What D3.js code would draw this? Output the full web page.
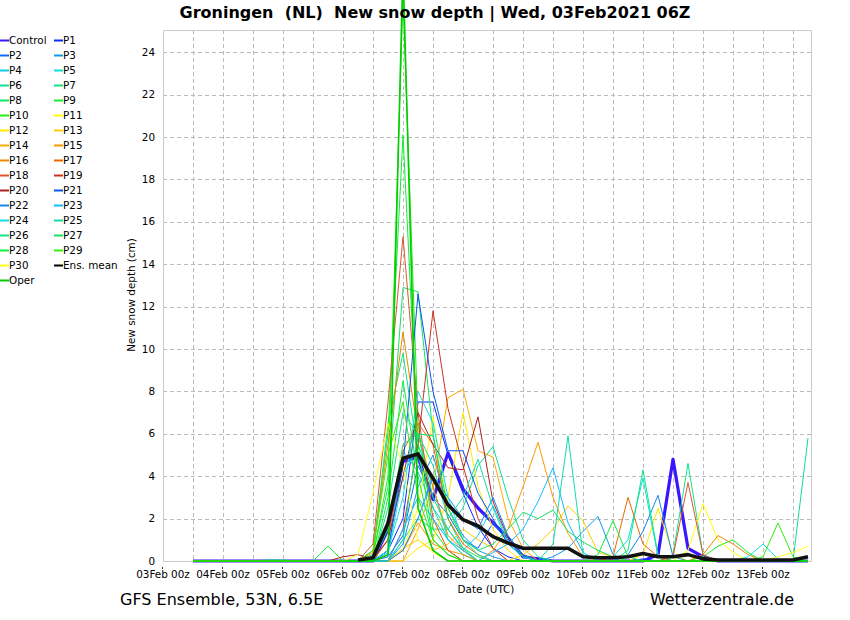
<!DOCTYPE html>
<html>
<head>
<meta charset="utf-8">
<title>Groningen new snow depth</title>
<script src="https://cdnjs.cloudflare.com/ajax/libs/d3/7.8.5/d3.min.js"></script>
<style>
  body { margin: 0; background: #fff; }
  svg { font-family: "DejaVu Sans", sans-serif; }
</style>
</head>
<body>
<script>
// 6-hourly steps from 03Feb 12Z to 13Feb 18Z (42 steps)
const start = Date.UTC(2021, 1, 3, 12);
const times = d3.range(42).map(i => new Date(start + i * 6 * 3600e3));

const names  = ["Control","P1","P2","P3","P4","P5","P6","P7","P8","P9","P10",
                "P11","P12","P13","P14","P15","P16","P17","P18","P19","P20",
                "P21","P22","P23","P24","P25","P26","P27","P28","P29","P30","Oper"];
const colors = ["#3a16ff","#0a2cff","#1166ff","#1199ee","#11c8f0","#11dddd","#11dd99","#11e488","#11e466","#11ee33","#22ee11",
                "#ffff00","#ffe800","#ffcc00","#ffaa00","#ff9900","#ee8800","#ee6600","#dd5533","#cc3322","#aa2222",
                "#0a55ee","#1188ee","#11bbff","#11dde8","#11ddaa","#11e488","#11e466","#11ee44","#33ee11","#ffff22","#00cc00"];

//                0  1  2  3  4  5  6  7  8  9   10   11   12   13   14   15   16   17   18   19   20   21   22   23   24   25   26   27   28   29   30   31   32   33   34   35   36   37   38   39   40   41
const control = [0, 0, 0, 0, 0, 0, 0, 0, 0, 0,   0,   0,   0, 1.5, 4.7, 4.9, 2.9, 5.1, 3.4, 2.5, 1.8, 1.1, 0.2, 0.1,   0,   0,   0,   0,   0,   0,   0, 0.3, 4.8, 0.6, 0.2,   0,   0,   0,   0,   0,   0,   0];
const p1  = [0, 0, 0, 0, 0, 0, 0, 0, 0, 0,   0,   0,   0, 0.5, 2.0, 7.5, 7.5, 5.0, 3.2, 1.6, 0.6, 0.2,   0,   0,   0,   0,   0,   0,   0,   0, 0.1,   0,   0,   0,   0,   0,   0,   0,   0,   0,   0,   0];
const p2  = [0, 0, 0, 0, 0, 0, 0, 0, 0, 0,   0,   0,   0, 0.2, 1.2, 4.5, 3.0, 2.2, 1.0, 0.6, 1.8, 0.9, 0.3,   0,   0,   0,   0,   0,   0,   0,   0,   0,   0,   0,   0,   0,   0,   0,   0,   0,   0,   0];
const p3  = [0, 0, 0, 0, 0, 0, 0, 0, 0, 0,   0,   0,   0,   0, 0.8, 3.5, 5.0, 2.5, 1.2, 0.5, 0.2,   0,   0,   0, 0.2, 0.6, 1.4, 2.1, 0.3,   0,   0,   0,   0,   0,   0,   0,   0,   0,   0,   0,   0,   0];
const p4  = [0, 0, 0, 0, 0, 0, 0, 0, 0, 0,   0,   0,   0, 0.4, 5.2, 4.2, 2.5, 1.5, 0.5, 1.2, 2.6, 1.0, 0.2,   0,   0,   0,   0,   0,   0,   0,   0,   0,   0,   0,   0,   0,   0,   0,   0,   0,   0,   0];
const p5  = [0, 0, 0, 0, 0, 0, 0, 0, 0, 0,   0,   0,   0, 0.3, 4.0, 5.5, 3.5, 1.0, 0.3,   0,   0,   0,   0,   0,   0,   0,   0,   0, 0.2, 1.0, 3.9, 0.2,   0,   0,   0,   0,   0,   0,   0,   0,   0,   0];
const p6  = [0, 0, 0, 0, 0,.05,.05, 0, 0, 0,   0,   0,   0,   0, 1.0, 2.0, 1.5, 1.5, 2.5, 4.5, 5.4, 3.0, 1.0, 0.2,   0,   0,   0,   0,   0,   0,   0,   0,   0,   0,   0,   0,   0,   0,   0,   0,   0, 5.8];
const p7  = [0, 0, 0, 0, 0, 0, 0, 0, 0, 0,   0,   0, 0.2, 6.5, 9.8, 5.0, 2.5, 1.0, 0.3,   0,   0,   0,   0,   0,   0,   0,   0,   0,   0,   0,   0,   0, 0.3, 4.6, 0.3,   0,   0,   0,   0,   0,   0,   0];
const p8  = [0, 0, 0, 0, 0, 0, 0, 0, 0, 0,   0,   0, 0.3, 3.5,12.9,12.7, 6.0, 2.0, 0.6, 0.2,   0,   0,   0,   0,   0,   0,   0,   0,   0,   0,   0,   0,   0,   0,   0,   0,   0,   0,   0,   0,   0,   0];
const p9  = [0, 0, 0, 0, 0, 0, 0, 0, 0, 0.7, 0,   0, 0.5, 6.0,20.1, 5.5, 1.0, 0.3,   0,   0,   0,   0,   0,   0,   0,   0,   0,   0,   0,   0,   0,   0,   0,   0, 0.2, 0.7, 1.0, 0.4,   0,   0,   0,   0];
const p10 = [0, 0, 0, 0, 0, 0, 0, 0, 0, 0,   0,   0, 0.2, 4.0,26.5, 6.5, 1.5, 0.5,   0,   0,   0,   0,   0,   0,   0,   0,   0,   0,   0,   0,   0,   0,   0,   0,   0,   0,   0,   0,   0,   0,   0,   0];
const p11 = [0, 0, 0, 0, 0, 0, 0, 0, 0, 0,   0,   0,   0,   0, 0.5, 2.5, 6.8, 2.5, 1.0, 0.3,   0,   0,   0,   0,   0,   0,   0,   0,   0,   0,   0,   0,   0, 0.5, 2.7, 1.0, 0.4,   0,   0,   0,   0,   0];
const p12 = [0, 0, 0, 0, 0, 0, 0, 0, 0, 0,   0,   0,   0,   0,   0, 0.6, 1.0, 3.0, 7.0, 3.5, 1.5, 0.5,   0,   0,   0,   0,   0,   0,   0,   0, 0.3, 2.5, 0.3,   0,   0,   0,   0,   0,   0,   0,   0,   0];
const p13 = [0, 0, 0, 0, 0, 0, 0, 0, 0, 0,   0,   0,   0,   0, 0.6, 1.0, 0.5, 0.8, 1.5, 1.0, 0.6,   0, 0.3, 0.8, 1.5, 2.6, 1.9, 0.4, 0.2,   0,   0,   0,   0,   0,   0,   0,   0,   0,   0,   0,   0,   0];
const p14 = [0, 0, 0, 0, 0, 0, 0, 0, 0, 0,   0,   0,   0,   0,   0, 1.5, 3.5, 7.7, 8.1, 5.2, 4.9, 2.0, 0.6,   0,   0,   0,   0,   0,   0,   0,   0,   0,   0,   0,   0,   0,   0,   0,   0,   0,   0,   0];
const p15 = [0, 0, 0, 0, 0, 0, 0, 0, 0, 0,   0,   0,   0,   0, 0.5, 1.8, 0.8, 0.5, 0.3,   0, 0.5, 1.5, 3.5, 5.6, 3.0, 1.3, 0.2,   0,   0,   0,   0,   0,   0,   0,   0,   0,   0,   0,   0,   0,   0,   0];
const p16 = [0, 0, 0, 0, 0, 0, 0, 0, 0, 0,   0,   0, 0.4, 5.5,10.8, 6.0, 3.5, 1.2, 0.5,   0,   0,   0,   0,   0,   0,   0,   0,   0,   0,   0,   0,   0,   0,   0, 0.3, 1.2, 0.8, 0.3,   0,   0,   0,   0];
const p17 = [0, 0, 0, 0, 0, 0, 0, 0, 0, 0,   0,   0,   0, 1.0, 5.2, 6.5, 5.5, 2.0, 0.8, 0.3,   0,   0,   0,   0,   0,   0,   0,   0, 0.2, 3.0, 0.8, 0.2,   0,   0,   0,   0,   0,   0,   0,   0,   0,   0];
const p18 = [0, 0, 0, 0, 0, 0, 0, 0, 0, 0,   0,   0, 0.8, 7.5,15.3, 7.0, 2.0, 0.5,   0,   0,   0,   0,   0,   0,   0,   0,   0,   0,   0,   0,   0,   0, 0.2, 3.7, 0.3,   0,   0,   0,   0,   0,   0,   0];
const p19 = [0, 0, 0, 0, 0, 0, 0, 0, 0, 0,   0,   0,   0,   0, 1.5, 5.5,11.8, 7.2, 4.5, 2.0, 0.6,   0,   0,   0,   0,   0,   0,   0,   0,   0,   0,   0,   0,   0,   0,   0,   0,   0,   0,   0,   0,   0];
const p20 = [0, 0, 0, 0, 0, 0, 0, 0, 0, 0, 0.2, 0.3, 0.1, 1.0, 4.0, 7.0, 5.5, 4.4, 4.3, 6.8, 2.8, 1.1, 0.3,   0,   0,   0,   0,   0,   0,   0,   0,   0,   0,   0,   0,   0,   0,   0,   0,   0,   0,   0];
const p21 = [0, 0, 0, 0, 0, 0, 0, 0, 0, 0,   0,   0,   0, 0.5, 4.5,12.6, 8.0, 5.2, 5.2, 3.2, 2.0, 0.8, 0.2,   0,   0,   0,   0,   0,   0,   0,   0,   0,   0,   0,   0,   0,   0,   0,   0,   0,   0,   0];
const p22 = [0, 0, 0, 0, 0, 0, 0, 0, 0, 0,   0,   0,   0,   0, 0.5, 2.0, 4.0, 3.0, 2.0, 1.5, 3.0, 1.2, 0.3,   0,   0,   0,   0,   0,   0, 0.3, 1.4, 3.1, 0.2,   0,   0,   0,   0,   0,   0,   0,   0,   0];
const p23 = [0, 0, 0, 0, 0, 0, 0, 0, 0, 0,   0,   0,   0,   0, 1.5, 3.0, 2.0, 1.0, 0.5,   0, 0.4, 0.8, 1.5, 2.8, 4.4, 1.8, 0.4,   0,   0,   0,   0,   0,   0,   0,   0,   0,   0,   0,   0,   0,   0,   0];
const p24 = [0, 0, 0, 0, 0, 0, 0, 0, 0, 0,   0,   0,   0, 0.5, 3.0, 8.0, 6.5, 3.0, 1.0, 0.3,   0,   0,   0,   0,   0,   0,   0,   0,   0,   0,   0,   0,   0,   0,   0,   0,   0, 0.2, 0.8, 0.1,   0,   0];
const p25 = [0, 0, 0, 0, 0, 0, 0, 0, 0, 0,   0,   0,   0,   0, 1.0, 6.0, 4.5, 2.0, 3.0, 4.8, 2.5, 0.8, 0.2,   0, 0.8, 5.9, 0.3,   0,   0,   0,   0,   0,   0,   0,   0,   0,   0,   0,   0,   0,   0,   0];
const p26 = [0, 0, 0, 0, 0, 0, 0, 0, 0, 0,   0,   0,   0, 2.5, 7.0, 6.0, 3.0, 1.5, 0.6,   0,   0,   0,   0,   0,   0,   0,   0,   0,   0, 0.5, 4.3, 0.3,   0,   0,   0,   0,   0,   0,   0,   0,   0,   0];
const p27 = [0, 0, 0, 0, 0, 0, 0, 0, 0, 0,   0,   0,   0, 1.5, 5.5, 6.0, 5.9, 2.5, 1.0, 0.5, 0.8, 1.5, 2.3, 2.0, 2.4, 1.4, 0.9, 0.5, 0.2,   0,   0,   0,   0,   0,   0,   0,   0,   0,   0,   0,   0,   0];
const p28 = [0, 0, 0, 0, 0, 0, 0, 0, 0, 0,   0,   0,   0, 3.0, 8.5, 4.0, 1.0, 0.3,   0,   0,   0,   0,   0,   0,   0,   0,   0, 0.3, 1.9, 0.2,   0,   0,   0,   0,   0,   0,   0,   0,   0,   0,   0,   0];
const p29 = [0, 0, 0, 0, 0, 0, 0, 0, 0, 0,   0,   0, 0.5, 5.0, 7.5, 3.0, 1.0, 0.3,   0,   0,   0,   0,   0,   0,   0,   0,   0,   0,   0,   0,   0,   0,   0,   0,   0,   0,   0,   0, 0.2, 1.8, 0.2,   0];
const p30 = [0, 0, 0, 0, 0, 0, 0, 0, 0, 0,   0, 0.3, 3.2, 6.5, 4.5, 1.0, 0.4,   0,   0,   0,   0,   0,   0,   0,   0,   0,   0,   0,   0,   0,   0,   0,   0,   0,   0,   0,   0,   0,   0, 0.2, 0.4, 0.7];
const oper = [0, 0, 0, 0, 0, 0, 0, 0, 0, 0,   0,   0,   0, 0.3,28.0, 2.5, 0.5,   0,   0,   0,   0,   0,   0,   0,   0,   0,   0,   0,   0,   0,   0,   0,   0,   0,   0,   0,   0,   0,   0,   0,   0,   0];
const ensMean = [null,null,null,null,null,null,null,null,null,null,null,
                 0.05,0.15,1.8,4.85,5.05,3.9,2.65,1.95,1.65,1.15,0.85,0.6,0.6,0.6,0.6,
                 0.2,0.15,0.15,0.2,0.35,0.2,0.2,0.3,0.1,0.05,0.05,0.05,0.05,0.05,0.05,0.2];

const members = [control,p1,p2,p3,p4,p5,p6,p7,p8,p9,p10,p11,p12,p13,p14,p15,
                 p16,p17,p18,p19,p20,p21,p22,p23,p24,p25,p26,p27,p28,p29,p30,oper];
const yTicks = d3.range(0, 25, 2);

const W = 850, H = 620;
const plot = {left: 163, right: 811, top: 30, bottom: 561};
const small = 10.4;

const svg = d3.select("body").append("svg").attr("width", W).attr("height", H);

const x = d3.scaleUtc()
    .domain([new Date(Date.UTC(2021, 1, 3, 0)), new Date(Date.UTC(2021, 1, 14, 0))])
    .range([plot.left, plot.left + 660]);
const y = d3.scaleLinear().domain([0, 25]).range([plot.bottom, plot.top + 1]);

// grid
const grid = svg.append("g").attr("stroke", "#bbb").attr("stroke-dasharray", "4,3").attr("stroke-width", 1);
const vGrid = d3.utcHour.every(12).range(new Date(Date.UTC(2021, 1, 3, 12)), new Date(Date.UTC(2021, 1, 13, 13)));
grid.selectAll("line.v").data(vGrid).enter().append("line")
    .attr("x1", d => Math.round(x(d)) + 0.5).attr("x2", d => Math.round(x(d)) + 0.5)
    .attr("y1", plot.top).attr("y2", plot.bottom);
grid.selectAll("line.h").data(yTicks.slice(1)).enter().append("line")
    .attr("x1", plot.left).attr("x2", plot.right)
    .attr("y1", d => Math.round(y(d)) + 0.5).attr("y2", d => Math.round(y(d)) + 0.5);

// frame
svg.append("path")
    .attr("d", `M${plot.left + 0.5},${plot.bottom + 0.5}V${plot.top + 0.5}H${plot.right + 0.5}V${plot.bottom + 0.5}Z`)
    .attr("fill", "none").attr("stroke", "#ccc");

// y labels
svg.append("g").selectAll("text").data(yTicks).enter().append("text")
    .attr("x", 155).attr("y", d => y(d)).attr("dy", "0.35em")
    .attr("text-anchor", "end").attr("font-size", small).text(d => d);

// x labels
const days = d3.utcDay.range(new Date(Date.UTC(2021, 1, 3)), new Date(Date.UTC(2021, 1, 13, 1)));
const fmt = d3.utcFormat("%dFeb %Hz");
svg.append("g").selectAll("text").data(days).enter().append("text")
    .attr("x", d => x(d)).attr("y", 578)
    .attr("text-anchor", "middle").attr("font-size", small).text(fmt);
svg.append("g").attr("stroke", "#333").selectAll("line").data(days).enter().append("line")
    .attr("x1", d => x(d) - 0.5).attr("x2", d => x(d) - 0.5).attr("y1", 567).attr("y2", 569);

// series
const line = d3.line().defined(d => d[1] != null)
    .x(d => x(d[0])).y(d => y(d[1]));
const series = members.map((vals, k) => ({name: names[k], color: colors[k], pts: vals.map((v, i) => [times[i], v])}));

const lines = svg.append("g").attr("fill", "none").attr("stroke-linejoin", "round");
lines.selectAll("path").data(series).enter().append("path")
    .attr("d", d => line(d.pts))
    .attr("stroke", d => d.color)
    .attr("stroke-width", d => d.name === "Control" ? 3.2 : (d.name === "Oper" ? 1.6 : 1));

lines.append("path")
    .attr("d", line(ensMean.map((v, i) => [times[i], v])))
    .attr("stroke", "#111").attr("stroke-width", 3.6);

// legend
const legendItems = names.slice(0, 31).map((n, k) => ({name: n, color: colors[k]}));
legendItems.push({name: "Ens. mean", color: "#000"});
legendItems.push({name: "Oper", color: colors[31]});
const leg = svg.append("g").attr("font-size", small);
legendItems.forEach((d, k) => {
  const col = (d.name === "Oper") ? 0 : (d.name === "Ens. mean" ? 1 : k % 2);
  const row = (d.name === "Oper") ? 16 : (d.name === "Ens. mean" ? 15 : Math.floor(k / 2));
  const lx = col === 0 ? 0 : 54;
  const ly = 40 + row * 15;
  leg.append("line").attr("x1", lx).attr("x2", lx + 9).attr("y1", ly + 0.5).attr("y2", ly + 0.5)
      .attr("stroke", d.color).attr("stroke-width", 2);
  leg.append("text").attr("x", lx + 9).attr("y", ly).attr("dy", "0.35em").text(d.name);
});

// titles
svg.append("text").attr("x", 435).attr("y", 18).attr("text-anchor", "middle")
    .attr("font-size", 16).attr("font-weight", "bold").style("white-space", "pre")
    .text("Groningen  (NL)  New snow depth | Wed, 03Feb2021 06Z");
svg.append("text").attr("transform", "translate(135,295) rotate(-90)")
    .attr("text-anchor", "middle").attr("font-size", small).text("New snow depth (cm)");
svg.append("text").attr("x", 486).attr("y", 593).attr("text-anchor", "middle")
    .attr("font-size", small).text("Date (UTC)");
svg.append("text").attr("x", 120).attr("y", 605).attr("font-size", 16).text("GFS Ensemble, 53N, 6.5E");
svg.append("text").attr("x", 794).attr("y", 605).attr("text-anchor", "end").attr("font-size", 16).text("Wetterzentrale.de");
</script>
</body>
</html>
